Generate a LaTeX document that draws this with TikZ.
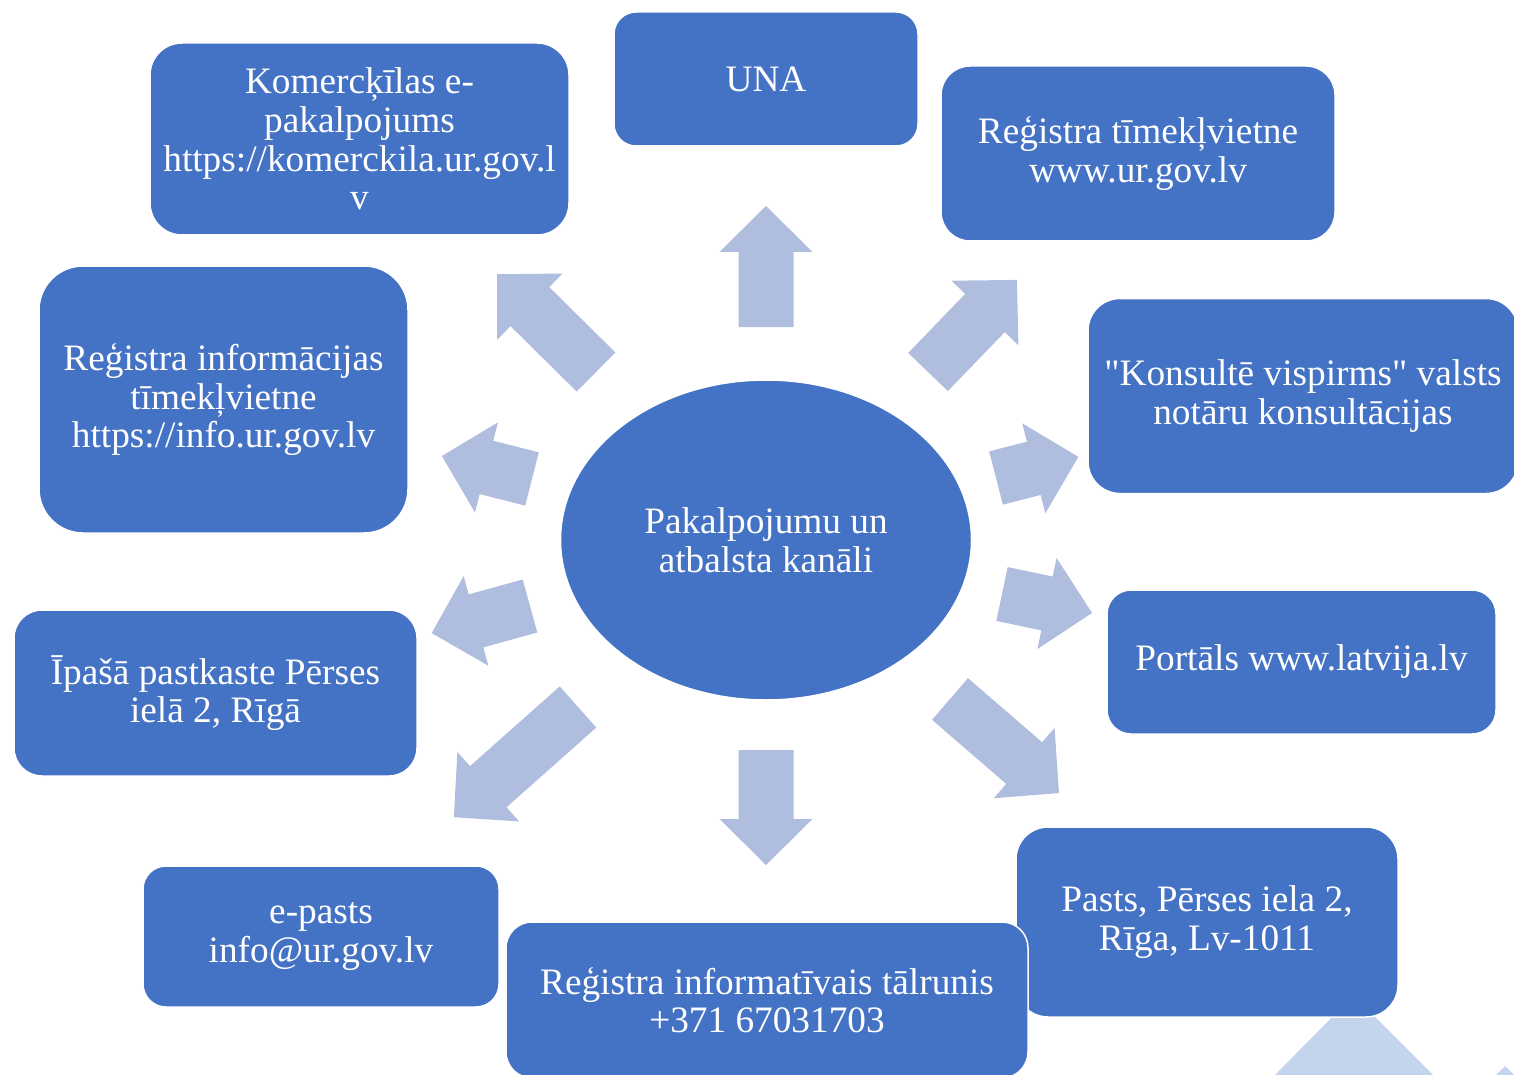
\documentclass[tikz,border=0pt]{standalone}
\usepackage{fontspec}
\setmainfont{Liberation Serif}[Ligatures=TeXOff]
\usetikzlibrary{shapes.geometric}
\definecolor{boxblue}{RGB}{68,114,196}
\definecolor{arrowblue}{RGB}{175,189,222}
\definecolor{paleblue}{RGB}{197,212,237}
\tikzset{every picture/.style={line width=0.75pt}}
\tikzset{
  chanbox/.style={draw=white, line width=1.5pt, fill=boxblue, text=white, align=center,
    inner sep=0pt, font=\fontsize{37.3}{38.7}\selectfont},
  hub/.style={chanbox, ellipse},
  pics/blockarrow/.style={code={
    \fill [arrowblue] (0,-27.5) -- (#1-46,-27.5) -- (#1-46,-46.5) -- (#1,0) -- (#1-46,46.5) -- (#1-46,27.5) -- (0,27.5) -- cycle ;}}
}

\begin{document}
\begin{tikzpicture}[x=1pt,y=1pt,yscale=-1,xscale=1]
\useasboundingbox (0,0) rectangle (1514,1075);
\clip (0,0) rectangle (1514,1075);

%Shape: pale arrows, lower right
\fill [paleblue] (1275,1075) -- (1353.5,995.5) -- (1433,1075) -- cycle ;
\fill [paleblue] (1496,1075) -- (1505,1066) -- (1514,1075) -- cycle ;

%Shape: Block Arrows round the hub
\pic [rotate=90] at (766,327) {blockarrow=121};
\pic [rotate=-90] at (766,750) {blockarrow=115};
\pic [rotate=135.3] at (596,372) {blockarrow=139};
\pic [rotate=46] at (928,372) {blockarrow=128};
\pic [rotate=14.4] at (996,478) {blockarrow=85};
\pic [rotate=-11.9] at (1002,594) {blockarrow=92};
\pic [rotate=165.7] at (532,479) {blockarrow=93};
\pic [rotate=-164.6] at (530,606) {blockarrow=102};
\pic [rotate=-138.4] at (578,707) {blockarrow=166};
\pic [rotate=-40.8] at (950,699) {blockarrow=144};

% Hub
\node [hub, minimum width=411pt, minimum height=320pt] (hub) at (766,540) {Pakalpojumu un\\atbalsta kanāli};

% Channel boxes
\node [chanbox, minimum width=419pt, minimum height=192pt, rounded corners=32pt] (komerc) at (359.5,139) {Komercķīlas e-\\pakalpojums\\https://komerckila.ur.gov.l\\v};
\node [chanbox, minimum width=304pt, minimum height=134pt, rounded corners=22pt] (una) at (766,79) {UNA};
\node [chanbox, minimum width=394pt, minimum height=175pt, rounded corners=29pt] (timekl) at (1138,153.5) {Reģistra tīmekļvietne\\www.ur.gov.lv};
\node [chanbox, minimum width=430pt, minimum height=195pt, rounded corners=32pt] (konsult) at (1303,396) {"Konsultē vispirms" valsts\\notāru konsultācijas};
\node [chanbox, minimum width=389pt, minimum height=144pt, rounded corners=24pt] (portals) at (1301.5,662) {Portāls www.latvija.lv};
\node [chanbox, minimum width=382pt, minimum height=190pt, rounded corners=32pt] (pasts) at (1207,922) {Pasts, Pērses iela 2,\\Rīga, Lv-1011};
\node [chanbox, minimum width=522pt, minimum height=156pt, rounded corners=26pt] (talr) at (767,1000) {Reģistra informatīvais tālrunis\\+371 67031703};
\node [chanbox, minimum width=356pt, minimum height=141pt, rounded corners=23pt] (epasts) at (321,936.5) {e-pasts\\info@ur.gov.lv};
\node [chanbox, minimum width=403pt, minimum height=166pt, rounded corners=28pt] (pastk) at (215.5,693) {Īpašā pastkaste Pērses\\ielā 2, Rīgā};
\node [chanbox, minimum width=369pt, minimum height=267pt, rounded corners=44pt] (infotk) at (223.5,399.5) {Reģistra informācijas\\tīmekļvietne\\https://info.ur.gov.lv};
\end{tikzpicture}
\end{document}
